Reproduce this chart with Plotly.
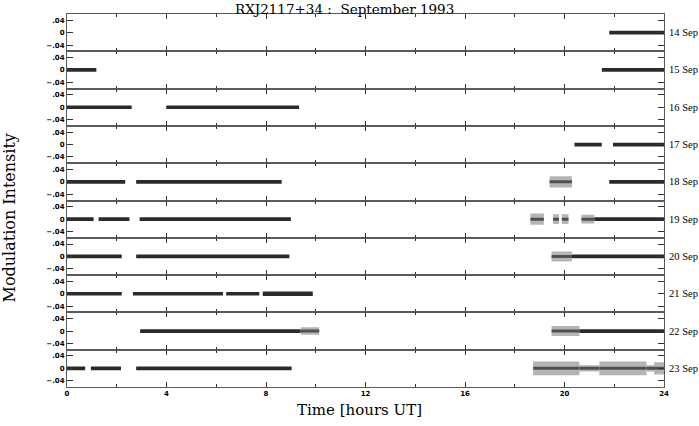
import plotly.graph_objects as go
from plotly.subplots import make_subplots

# ---- data ----
days = ["14 Sep", "15 Sep", "16 Sep", "17 Sep", "18 Sep",
        "19 Sep", "20 Sep", "21 Sep", "22 Sep", "23 Sep"]

# observing runs: day index, start [h UT], end [h UT], scatter half-width (intensity)
seg_day = [0,
           1, 1,
           2, 2,
           3, 3,
           4, 4, 4, 4,
           5, 5, 5, 5, 5, 5, 5, 5,
           6, 6, 6, 6,
           7, 7, 7, 7,
           8, 8, 8, 8,
           9, 9, 9, 9, 9, 9, 9, 9]
seg_start = [21.8,
             0.0, 21.5,
             0.0, 3.99,
             20.4, 21.95,
             0.0, 2.78, 19.4, 21.8,
             0.0, 1.27, 2.92, 18.63, 19.54, 19.89, 20.68, 21.2,
             0.0, 2.78, 19.48, 20.3,
             0.0, 2.65, 6.4, 7.87,
             2.94, 9.4, 19.48, 20.6,
             0.0, 0.96, 2.78, 18.74, 20.6, 21.4, 23.3, 23.6]
seg_end = [24.0,
           1.18, 24.0,
           2.6, 9.33,
           21.5, 24.0,
           2.34, 8.63, 20.3, 24.0,
           1.07, 2.51, 9.0, 19.17, 19.78, 20.16, 21.2, 24.0,
           2.2, 8.94, 20.3, 24.0,
           2.2, 6.27, 7.73, 9.88,
           9.4, 10.14, 20.6, 24.0,
           0.73, 2.17, 9.03, 20.6, 21.4, 23.3, 23.6, 24.0]
seg_hw = [0.006,
          0.006, 0.006,
          0.006, 0.006,
          0.006, 0.006,
          0.006, 0.006, 0.018, 0.006,
          0.006, 0.006, 0.006, 0.018, 0.016, 0.016, 0.014, 0.006,
          0.006, 0.006, 0.016, 0.006,
          0.006, 0.006, 0.006, 0.007,
          0.006, 0.012, 0.016, 0.006,
          0.006, 0.006, 0.006, 0.022, 0.010, 0.022, 0.010, 0.020]

x_ticks = [0, 4, 8, 12, 16, 20, 24]
y_ticks = [-0.04, 0, 0.04]
y_ticktext = ["\u2212.04", "0", ".04"]

# ---- figure ----
n = len(days)
fig = make_subplots(rows=n, cols=1, shared_xaxes=True, vertical_spacing=0)

CORE = 0.006
for d, t0, t1, hw in zip(seg_day, seg_start, seg_end, seg_hw):
    row = d + 1
    if hw > 0.009:
        fig.add_trace(go.Scatter(x=[t0, t1, t1, t0, t0], y=[-hw, -hw, hw, hw, -hw],
                                 mode="lines", fill="toself", fillcolor="#b4b4b4",
                                 line=dict(width=0), hoverinfo="skip", showlegend=False),
                      row=row, col=1)
        c = min(hw, CORE) * 0.8
        fig.add_trace(go.Scatter(x=[t0, t1, t1, t0, t0], y=[-c, -c, c, c, -c],
                                 mode="lines", fill="toself", fillcolor="#505050",
                                 line=dict(width=0), hoverinfo="skip", showlegend=False),
                      row=row, col=1)
    else:
        fig.add_trace(go.Scatter(x=[t0, t1, t1, t0, t0], y=[-hw, -hw, hw, hw, -hw],
                                 mode="lines", fill="toself", fillcolor="#2a2a2a",
                                 line=dict(width=0), hoverinfo="skip", showlegend=False),
                      row=row, col=1)

axis_line = "#5a5a5a"
tick_font = dict(family="DejaVu Sans", size=7, color="#000", weight="bold")
for i in range(1, n + 1):
    fig.update_xaxes(range=[0, 24], tickvals=x_ticks, ticks="inside", ticklen=5,
                     tickwidth=1, tickcolor="#333", showline=True, linecolor=axis_line,
                     linewidth=1, mirror="ticks", showgrid=False, zeroline=False,
                     automargin=False,
                     minor=dict(tickvals=[2, 6, 10, 14, 18, 22], ticks="inside",
                                ticklen=3, tickcolor="#333", showgrid=False),
                     tickfont=tick_font, row=i, col=1)
    fig.update_yaxes(range=[-0.06, 0.06], tickvals=y_ticks, ticktext=y_ticktext,
                     ticks="inside", ticklen=6, tickwidth=1, tickcolor="#333",
                     showline=True, linecolor=axis_line, linewidth=1, mirror="ticks",
                     showgrid=False, zeroline=False, automargin=False,
                     tickfont=tick_font, row=i, col=1)

annotations = []
for i, name in enumerate(days):
    yref = "y domain" if i == 0 else f"y{i + 1} domain"
    annotations.append(dict(text=name, xref="paper", yref=yref, x=1, y=0.5,
                            xanchor="left", yanchor="middle", xshift=3, showarrow=False,
                            font=dict(family="Liberation Serif", size=10.5, color="#000")))
annotations.append(dict(text="RXJ2117+34 :  September 1993", xref="paper", yref="paper",
                        x=0.465, y=1, yanchor="top", yshift=15, showarrow=False,
                        font=dict(family="DejaVu Serif", size=13.5, color="#000")))
annotations.append(dict(text="Time [hours UT]", xref="paper", yref="paper",
                        x=0.49, y=0, yanchor="middle", yshift=-23, showarrow=False,
                        font=dict(family="DejaVu Serif", size=15, color="#000")))
annotations.append(dict(text="Modulation Intensity", xref="paper", yref="paper",
                        x=0, y=0.5, xanchor="center", yanchor="middle", xshift=-58,
                        yshift=-18, textangle=-90, showarrow=False,
                        font=dict(family="DejaVu Serif", size=16, color="#000")))

fig.update_layout(width=699, height=426, margin=dict(l=67, r=35, t=14, b=39),
                  paper_bgcolor="white", plot_bgcolor="white",
                  annotations=annotations, showlegend=False)

fig.write_html("out.html", config={"displayModeBar": False},
               post_script="document.body.style.margin='0';")
